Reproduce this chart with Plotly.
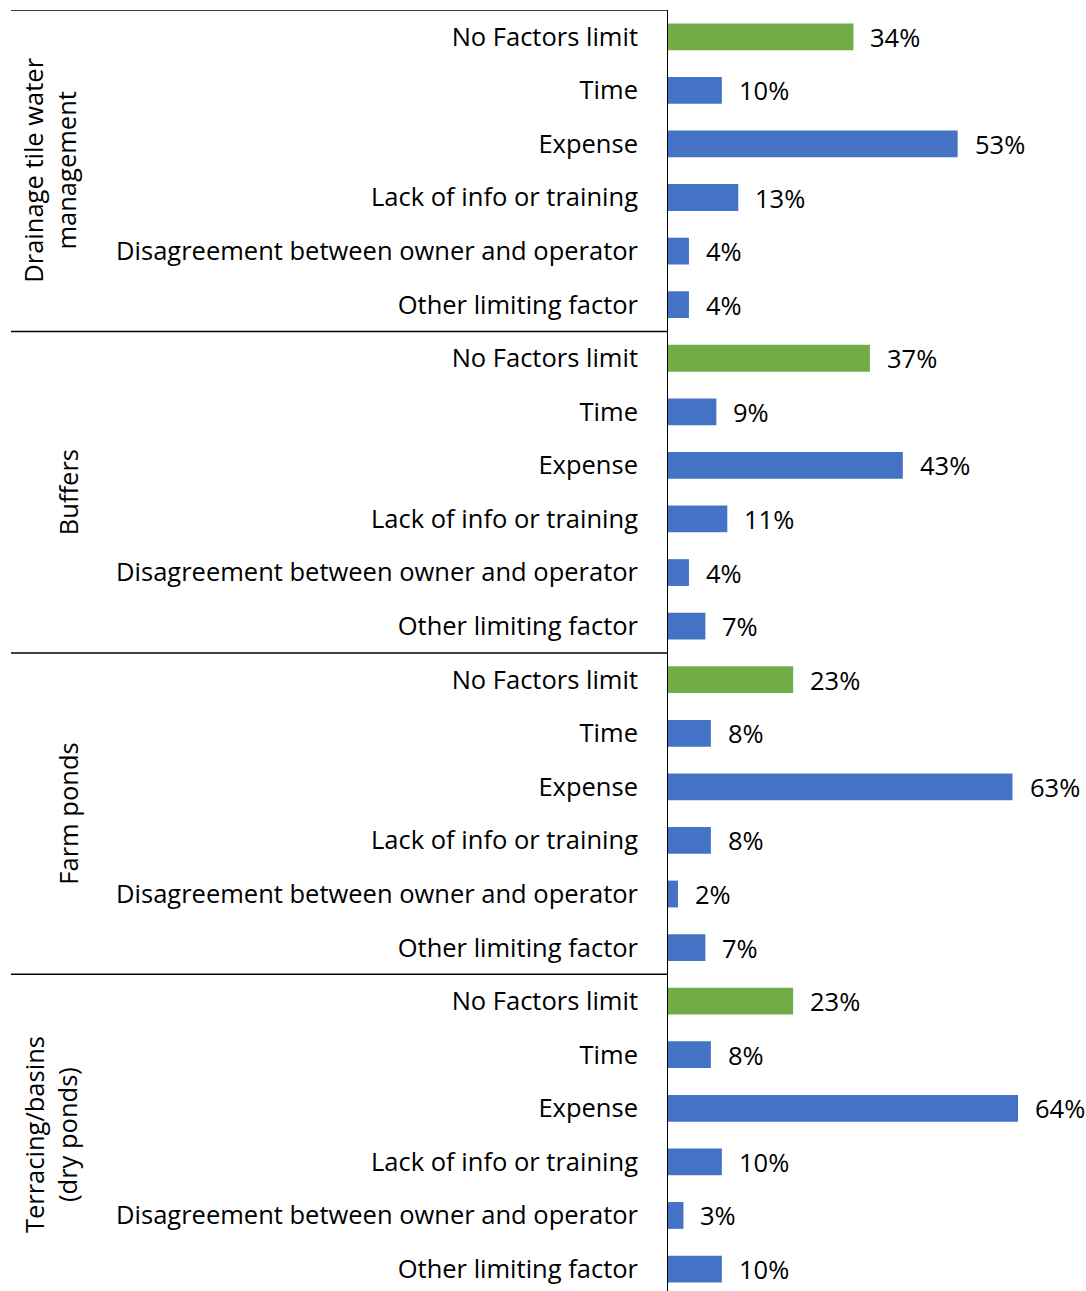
import plotly.graph_objects as go

groups = ["Drainage tile water<br>management", "Buffers", "Farm ponds", "Terracing/basins<br>(dry ponds)"]
factors = ["No Factors limit", "Time", "Expense", "Lack of info or training",
           "Disagreement between owner and operator", "Other limiting factor"]
drainage = [34, 10, 53, 13, 4, 4]
buffers = [37, 9, 43, 11, 4, 7]
farm_ponds = [23, 8, 63, 8, 2, 7]
terracing = [23, 8, 64, 10, 3, 10]

series = [drainage, buffers, farm_ponds, terracing]
GREEN = "#70AD47"
BLUE = "#4472C4"
FONT = "Open Sans"
FS = 25.5

W, H = 1086, 1291
L, T = 667, 10

xs, ys, cols, labels = [], [], [], []
idx = 0
for g, vals in enumerate(series):
    for k, v in enumerate(vals):
        xs.append(v)
        ys.append(idx)
        cols.append(GREEN if k == 0 else BLUE)
        labels.append(factors[k])
        idx += 1

fig = go.Figure()
fig.add_trace(go.Bar(x=xs, y=ys, orientation="h", marker=dict(color=cols, line=dict(width=0)),
                     width=0.5, hoverinfo="skip"))

xmax = 76.4
fig.update_layout(
    width=W, height=H,
    margin=dict(l=L, r=0, t=T, b=0, pad=0),
    plot_bgcolor="white", paper_bgcolor="white",
    showlegend=False,
    font=dict(family=FONT, size=FS, color="#000000"),
    xaxis=dict(range=[0, xmax], visible=False, fixedrange=True),
    yaxis=dict(range=[23.41, -0.5], tickvals=ys, ticktext=labels, showgrid=False,
               zeroline=False, showline=False, ticks="", ticklabelstandoff=28,
               fixedrange=True,
               tickfont=dict(family=FONT, size=FS, color="#000000")),
)

# value labels
for x, y in zip(xs, ys):
    fig.add_annotation(x=x, y=y, xref="x", yref="y", text=f"{x}%", showarrow=False,
                       xanchor="left", yanchor="middle", xshift=15,
                       font=dict(family=FONT, size=FS, color="#000000"))

# vertical axis line
fig.add_shape(type="line", xref="x", yref="y", x0=0, x1=0, y0=-0.5, y1=23.41,
              line=dict(color="#000000", width=2))
# group separators
x_left = (11 - L) / (W - L)
for sep in [-0.5, 5.5, 11.5, 17.5]:
    fig.add_shape(type="line", xref="paper", yref="y", x0=x_left, x1=0, y0=sep, y1=sep,
                  line=dict(color="#000000", width=1.5))

# group labels
centers_px = [50, 68, 68, 50]
for g, name in enumerate(groups):
    fig.add_annotation(x=(centers_px[g] - L) / (W - L), y=g * 6 + 2.5, xref="paper", yref="y",
                       text=name, textangle=-90, showarrow=False,
                       xanchor="center", yanchor="middle",
                       font=dict(family=FONT, size=FS, color="#000000"))

fig.write_html("out.html", config={"displayModeBar": False},
               post_script="document.body.style.margin='0';document.body.style.overflow='hidden';")
